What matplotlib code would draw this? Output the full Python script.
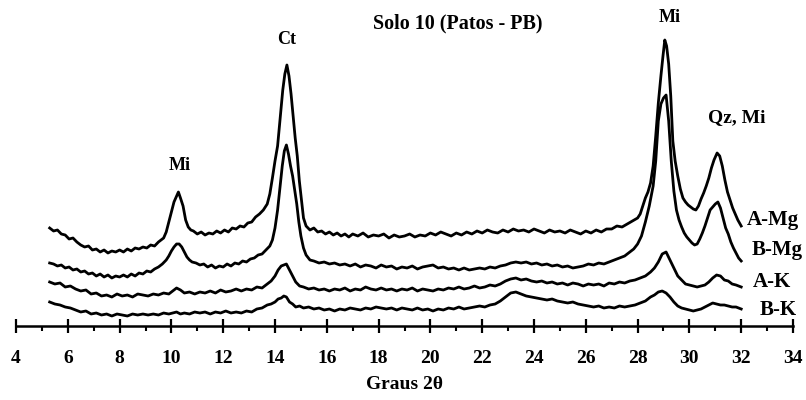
import matplotlib
matplotlib.use("Agg")
import matplotlib.pyplot as plt
from matplotlib.ticker import MultipleLocator

# ---- data: intensity (arbitrary units, px above the axis) vs 2-theta ----
amg_x = [5.3, 5.45, 5.6, 5.75, 5.9, 6.05, 6.2, 6.35, 6.5, 6.65,
         6.8, 6.95, 7.1, 7.25, 7.4, 7.55, 7.7, 7.85, 8.0, 8.15,
         8.3, 8.45, 8.6, 8.75, 8.9, 9.05, 9.2, 9.35, 9.5, 9.6,
         9.7, 9.8, 9.9, 10.0, 10.1, 10.2, 10.27, 10.35, 10.45, 10.55,
         10.65, 10.75, 10.85, 11.0, 11.15, 11.3, 11.45, 11.6, 11.75, 11.9,
         12.05, 12.2, 12.35, 12.5, 12.65, 12.8, 12.95, 13.1, 13.25, 13.4,
         13.55, 13.7, 13.8, 13.9, 14.0, 14.1, 14.2, 14.3, 14.38, 14.46,
         14.54, 14.62, 14.7, 14.78, 14.86, 14.94, 15.02, 15.1, 15.2, 15.35,
         15.5, 15.65, 15.8, 15.95, 16.1, 16.25, 16.4, 16.55, 16.7, 16.85,
         17.0, 17.2, 17.4, 17.6, 17.8, 18.0, 18.2, 18.4, 18.6, 18.8,
         19.0, 19.2, 19.4, 19.6, 19.8, 20.0, 20.2, 20.4, 20.6, 20.8,
         21.0, 21.2, 21.4, 21.6, 21.8, 22.0, 22.2, 22.4, 22.6, 22.8,
         23.0, 23.2, 23.4, 23.6, 23.8, 24.0, 24.2, 24.4, 24.6, 24.8,
         25.0, 25.2, 25.4, 25.6, 25.8, 26.0, 26.2, 26.4, 26.6, 26.8,
         27.0, 27.2, 27.4, 27.6, 27.8, 28.0, 28.1, 28.2, 28.3, 28.4,
         28.5, 28.6, 28.7, 28.8, 28.9, 28.98, 29.05, 29.12, 29.2, 29.28,
         29.36, 29.45, 29.55, 29.65, 29.75, 29.85, 29.95, 30.05, 30.15, 30.25,
         30.35, 30.45, 30.55, 30.65, 30.75, 30.85, 30.95, 31.07, 31.17, 31.27,
         31.37, 31.47, 31.57, 31.67, 31.77, 31.87, 32.0]
amg_y = [98, 95, 96, 92, 91, 87, 88, 84, 81, 79,
         80, 76, 77, 74, 76, 73, 75, 74, 76, 74,
         77, 75, 78, 77, 79, 78, 81, 80, 84, 86,
         88, 94, 104, 114, 124, 130, 134, 128, 120, 106,
         99, 96, 95, 92, 94, 91, 93, 92, 95, 93,
         96, 94, 98, 97, 100, 99, 103, 104, 109, 112,
         116, 122, 132, 148, 165, 180, 208, 236, 252, 261,
         250, 232, 210, 188, 170, 145, 126, 108, 100, 96,
         98, 94, 95, 92, 94, 91, 93, 90, 92, 89,
         92, 90, 93, 89, 91, 90, 92, 88, 91, 89,
         90, 92, 89, 91, 90, 93, 91, 94, 92, 90,
         93, 91, 94, 92, 95, 93, 96, 94, 93, 96,
         94, 97, 95, 96, 94, 97, 95, 93, 96, 94,
         95, 93, 96, 94, 92, 95, 93, 96, 94, 97,
         97, 100, 99, 102, 105, 108, 112, 120, 128, 134,
         143, 160, 190, 223, 250, 270, 286, 280, 262, 230,
         185, 165, 150, 137, 128, 124, 121, 119, 117, 116,
         120, 127, 133, 140, 148, 158, 166, 173, 170, 160,
         146, 134, 126, 118, 112, 106, 100]

bmg_x = [5.3, 5.45, 5.6, 5.75, 5.9, 6.05, 6.2, 6.35, 6.5, 6.65,
         6.8, 6.95, 7.1, 7.25, 7.4, 7.55, 7.7, 7.85, 8.0, 8.15,
         8.3, 8.45, 8.6, 8.75, 8.9, 9.05, 9.2, 9.35, 9.5, 9.65,
         9.8, 9.9, 10.0, 10.1, 10.2, 10.3, 10.4, 10.5, 10.6, 10.7,
         10.8, 10.95, 11.1, 11.25, 11.4, 11.55, 11.7, 11.85, 12.0, 12.15,
         12.3, 12.45, 12.6, 12.75, 12.9, 13.05, 13.2, 13.35, 13.5, 13.65,
         13.8, 13.9, 14.0, 14.1, 14.2, 14.28, 14.36, 14.44, 14.52, 14.6,
         14.68, 14.76, 14.84, 14.92, 15.0, 15.1, 15.2, 15.35, 15.5, 15.7,
         15.9, 16.1, 16.3, 16.5, 16.7, 16.9, 17.1, 17.3, 17.5, 17.7,
         17.9, 18.1, 18.3, 18.5, 18.7, 18.9, 19.1, 19.3, 19.5, 19.7,
         19.9, 20.1, 20.3, 20.5, 20.7, 20.9, 21.1, 21.3, 21.5, 21.7,
         21.9, 22.1, 22.3, 22.5, 22.7, 22.9, 23.1, 23.3, 23.5, 23.7,
         23.9, 24.1, 24.3, 24.5, 24.7, 24.9, 25.1, 25.3, 25.5, 25.7,
         25.9, 26.1, 26.3, 26.5, 26.7, 26.9, 27.1, 27.3, 27.5, 27.7,
         27.85, 28.0, 28.15, 28.3, 28.45, 28.6, 28.7, 28.8, 28.9, 29.0,
         29.1, 29.2, 29.3, 29.4, 29.5, 29.6, 29.7, 29.8, 29.9, 30.0,
         30.1, 30.2, 30.3, 30.4, 30.5, 30.6, 30.7, 30.8, 30.9, 31.0,
         31.1, 31.2, 31.3, 31.4, 31.5, 31.6, 31.7, 31.8, 31.9, 32.0]
bmg_y = [63, 62, 60, 61, 58, 59, 56, 57, 54, 55,
         52, 53, 50, 52, 49, 51, 48, 50, 49, 51,
         49, 52, 50, 53, 52, 55, 54, 57, 59, 62,
         66, 70, 75, 79, 82, 82, 79, 74, 69, 66,
         64, 63, 61, 62, 59, 61, 58, 60, 59, 62,
         60, 63, 62, 65, 64, 67, 68, 71, 72, 76,
         80, 86, 98, 116, 140, 160, 175, 181, 172, 160,
         150, 136, 122, 104, 90, 78, 71, 66, 65, 63,
         64, 62, 63, 61, 62, 60, 62, 59, 61, 60,
         58, 61, 59, 60, 57, 59, 58, 60, 57, 59,
         60, 61, 58, 59, 57, 58, 56, 58, 56, 57,
         58, 57, 59, 58, 60, 61, 63, 64, 63, 64,
         62, 63, 61, 62, 60, 61, 59, 60, 58, 59,
         60, 62, 61, 63, 62, 64, 66, 68, 70, 74,
         77, 82, 90, 104, 120, 140, 165, 205, 222, 228,
         231, 205, 165, 135, 116, 106, 99, 93, 89, 86,
         83, 81, 82, 87, 93, 100, 108, 116, 119, 122,
         124, 118, 108, 98, 92, 84, 78, 73, 68, 65]

# both K-saturated scans share the same sampling
k_x = [5.3, 5.5, 5.7, 5.9, 6.1, 6.3, 6.5, 6.7, 6.9, 7.1,
       7.3, 7.5, 7.7, 7.9, 8.1, 8.3, 8.5, 8.7, 8.9, 9.1,
       9.3, 9.5, 9.7, 9.9, 10.05, 10.2, 10.35, 10.5, 10.7, 10.9,
       11.1, 11.3, 11.5, 11.7, 11.9, 12.1, 12.3, 12.5, 12.7, 12.9,
       13.1, 13.3, 13.5, 13.7, 13.85, 14.0, 14.12, 14.24, 14.34, 14.44,
       14.56, 14.68, 14.8, 14.95, 15.1, 15.3, 15.5, 15.7, 15.9, 16.1,
       16.3, 16.5, 16.7, 16.9, 17.1, 17.3, 17.5, 17.7, 17.9, 18.1,
       18.3, 18.5, 18.7, 18.9, 19.1, 19.3, 19.5, 19.7, 19.9, 20.1,
       20.3, 20.5, 20.7, 20.9, 21.1, 21.3, 21.5, 21.7, 21.9, 22.1,
       22.3, 22.5, 22.7, 22.9, 23.1, 23.3, 23.5, 23.7, 23.9, 24.1,
       24.3, 24.5, 24.7, 24.9, 25.1, 25.3, 25.5, 25.7, 25.9, 26.1,
       26.3, 26.5, 26.7, 26.9, 27.1, 27.3, 27.5, 27.7, 27.9, 28.1,
       28.3, 28.5, 28.65, 28.8, 28.95, 29.1, 29.25, 29.4, 29.55, 29.7,
       29.85, 30.0, 30.15, 30.3, 30.45, 30.6, 30.75, 30.9, 31.05, 31.2,
       31.35, 31.5, 31.65, 31.8, 31.9, 32.0]
ak_y = [44, 42, 43, 39, 40, 37, 35, 36, 32, 33,
        30, 31, 29, 32, 30, 31, 29, 32, 31, 30,
        32, 31, 33, 32, 35, 38, 36, 33, 34, 32,
        34, 33, 35, 33, 36, 34, 35, 37, 35, 37,
        36, 39, 38, 42, 45, 50, 56, 60, 61, 62,
        56, 50, 44, 40, 39, 37, 38, 36, 37, 35,
        37, 36, 38, 35, 37, 36, 39, 37, 36, 38,
        36, 37, 35, 37, 36, 38, 35, 37, 36, 35,
        37, 36, 38, 37, 39, 37, 38, 40, 38, 39,
        41, 40, 42, 45, 47, 48, 46, 47, 45, 44,
        45, 43, 44, 42, 43, 41, 43, 42, 40, 42,
        41, 42, 40, 43, 42, 44, 43, 45, 46, 48,
        50, 54, 58, 64, 72, 74, 66, 58, 50, 46,
        42, 41, 40, 39, 40, 41, 44, 48, 51, 50,
        46, 45, 42, 41, 40, 39]
bk_y = [24, 22, 21, 19, 18, 16, 14, 15, 12, 13,
        11, 12, 10, 12, 11, 10, 12, 11, 12, 11,
        12, 11, 13, 12, 13, 14, 12, 13, 12, 14,
        13, 14, 12, 14, 13, 15, 13, 14, 13, 15,
        14, 17, 18, 21, 22, 24, 27, 28, 30, 29,
        24, 22, 19, 20, 18, 19, 17, 18, 16, 17,
        15, 17, 16, 18, 17, 16, 18, 17, 19, 18,
        17, 18, 16, 18, 17, 16, 18, 16, 17, 15,
        17, 16, 18, 17, 19, 17, 18, 19, 20, 19,
        21, 22, 25, 29, 33, 34, 32, 30, 29, 28,
        27, 26, 27, 25, 24, 23, 24, 22, 21, 20,
        19, 20, 18, 19, 18, 20, 19, 20, 21, 23,
        25, 29, 31, 34, 35, 33, 29, 24, 20, 18,
        17, 16, 15, 16, 17, 19, 21, 23, 22, 21,
        21, 20, 19, 19, 18, 17]

series_names = ["A-Mg", "B-Mg", "A-K", "B-K"]
peak_labels = ["Mi", "Ct", "Mi", "Qz, Mi"]
tick_vals = list(range(4, 35, 2))

plt.rcParams['font.family'] = ['Liberation Serif', 'DejaVu Serif']
plt.rcParams['font.weight'] = 'bold'

fig = plt.figure(figsize=(8.06, 4.0), dpi=100)
ax = fig.add_axes([16 / 806, 74 / 400, 777 / 806, 326 / 400])

lw = 2.0
ax.plot(amg_x, amg_y, color='black', lw=lw)
ax.plot(bmg_x, bmg_y, color='black', lw=lw)
ax.plot(k_x, ak_y, color='black', lw=lw)
ax.plot(k_x, bk_y, color='black', lw=lw)

ax.set_xlim(4, 34)
ax.set_ylim(0, 326)

for s in ['left', 'right', 'top']:
    ax.spines[s].set_visible(False)
ax.spines['bottom'].set_linewidth(1.8)
ax.set_yticks([])
ax.set_xticks(tick_vals)
ax.set_xticklabels([str(v) for v in tick_vals])
ax.xaxis.set_minor_locator(MultipleLocator(1))
ax.tick_params(axis='x', which='major', direction='inout', length=10, width=1.6,
               pad=12, labelsize=14)
ax.tick_params(axis='x', which='minor', direction='out', length=3.5, width=1.5)
ax.set_xlabel("Graus 2θ", fontsize=14, fontweight='bold', labelpad=7)

# peak annotations
ax.text(10.33, 161, peak_labels[0], ha='center', va='center', fontsize=13)
ax.text(14.46, 287, peak_labels[1], ha='center', va='center', fontsize=13)
ax.text(29.25, 308, peak_labels[2], ha='center', va='center', fontsize=13)
ax.text(31.84, 208, peak_labels[3], ha='center', va='center', fontsize=14)
ax.text(21.07, 303, "Solo 10 (Patos - PB)", ha='center', va='center', fontsize=14.5)

# curve names on the right
ax.text(33.23, 106, series_names[0], ha='center', va='center', fontsize=15)
ax.text(33.38, 76, series_names[1], ha='center', va='center', fontsize=15)
ax.text(33.19, 44, series_names[2], ha='center', va='center', fontsize=15)
ax.text(33.42, 16, series_names[3], ha='center', va='center', fontsize=15)

fig.savefig("out.png", dpi=100)
